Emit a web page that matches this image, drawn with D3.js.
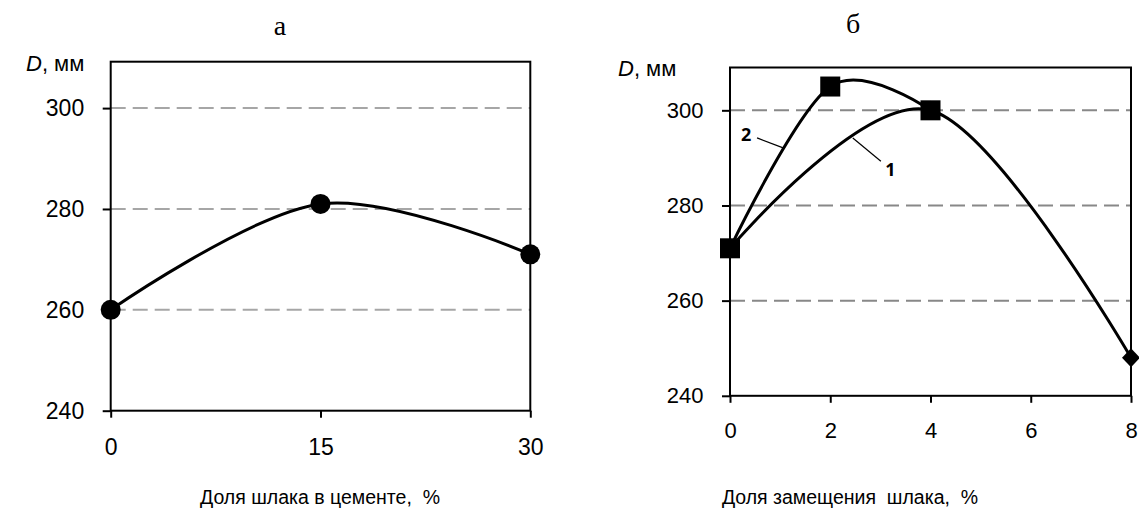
<!DOCTYPE html>
<html><head><meta charset="utf-8">
<script src="https://cdn.jsdelivr.net/npm/d3@7"></script>
<style>
body{margin:0;background:#fff}
svg{display:block}
text{fill:#000;white-space:pre}
</style>
</head><body>
<svg id="c" width="1139" height="509"></svg>
<script>
// ---- data ----
const leftX = [0, 15, 30];
const leftY = [260, 281, 271];
const leftXTicks = [0, 15, 30];
const yTicks = [240, 260, 280, 300];
const s1X = [0, 4, 8];
const s1Y = [271, 300, 248];
const s2X = [0, 2, 4];
const s2Y = [271, 305, 300];
const rightXTicks = [0, 2, 4, 6, 8];
const titles = ["а", "б"];
const xTitles = ["Доля шлака в цементе,  %", "Доля замещения  шлака,  %"];

const SANS = "'Liberation Sans', Arial, sans-serif";
const SERIF = "'Liberation Serif', 'Times New Roman', serif";
const svg = d3.select("#c");
const line = (x, y) => d3.line().x(d => x(d[0])).y(d => y(d[1])).curve(d3.curveCardinal.tension(0));

function panel(o) {
  const x = d3.scaleLinear().domain(o.xd).range([o.l, o.r]);
  const y = d3.scaleLinear().domain(o.yd).range([o.b, o.t]);
  const g = svg.append("g");
  g.selectAll("line.grid").data(yTicks.filter(v => v > o.yd[0])).enter().append("line")
    .attr("x1", o.l).attr("x2", o.r).attr("y1", d => y(d)).attr("y2", d => y(d))
    .attr("stroke", o.grid).attr("stroke-width", 2).attr("stroke-dasharray", "15 7");
  const ay = d3.axisLeft(y).tickValues(yTicks).tickSize(8).tickPadding(18.5).tickSizeOuter(0);
  const gy = g.append("g").attr("transform", `translate(${o.l},0)`).call(ay);
  gy.select(".domain").remove();
  gy.selectAll("line").attr("stroke", "#000").attr("stroke-width", 2);
  gy.selectAll("text").style("font-size", o.fs + "px").style("font-family", SANS).attr("fill", "#000");
  const ax = d3.axisBottom(x).tickValues(o.xt).tickSize(7).tickPadding(o.xpad).tickSizeOuter(0);
  const gx = g.append("g").attr("transform", `translate(0,${o.b})`).call(ax);
  gx.select(".domain").remove();
  gx.selectAll("line").attr("stroke", "#000").attr("stroke-width", 2);
  gx.selectAll("text").style("font-size", o.fs + "px").style("font-family", SANS).attr("fill", "#000");
  g.append("rect").attr("x", o.l).attr("y", o.t).attr("width", o.r - o.l).attr("height", o.b - o.t)
    .attr("fill", "none").attr("stroke", "#000").attr("stroke-width", 2);
  g.append("text").attr("x", o.tx).attr("y", o.ty).attr("text-anchor", "middle")
    .style("font-family", SERIF).style("font-size", "28px").text(o.title);
  const dl = g.append("text").attr("x", o.dx).attr("y", o.dy).style("font-family", SANS).style("font-size", "22px");
  dl.append("tspan").attr("font-style", "italic").text("D");
  dl.append("tspan").text(", мм");
  g.append("text").attr("x", o.xtx).attr("y", 504).attr("text-anchor", "middle")
    .style("font-family", SANS).style("font-size", "19.5px").text(o.xtitle);
  return {x, y, g};
}

// ---- panel а ----
const A = panel({xd: [0, 30], yd: [240, 309.2], l: 110.7, r: 530.3, t: 61.7, b: 410.7,
  xt: leftXTicks, fs: 23, xpad: 21, grid: "#a6a6a6", title: titles[0], tx: 280, ty: 35,
  dx: 26, dy: 71, xtitle: xTitles[0], xtx: 320});
const leftPts = leftX.map((v, i) => [v, leftY[i]]);
A.g.append("path").datum(leftPts).attr("d", line(A.x, A.y))
  .attr("fill", "none").attr("stroke", "#000").attr("stroke-width", 3);
A.g.selectAll("circle.m").data(leftPts).enter().append("circle")
  .attr("cx", d => A.x(d[0])).attr("cy", d => A.y(d[1])).attr("r", 10).attr("fill", "#000");

// ---- panel б ----
const B = panel({xd: [0, 8], yd: [240, 309], l: 730, r: 1131, t: 67.5, b: 395.8,
  xt: rightXTicks, fs: 22, xpad: 20, grid: "#888888", title: titles[1], tx: 853, ty: 33,
  dx: 618, dy: 76, xtitle: xTitles[1], xtx: 850});
const p1 = s1X.map((v, i) => [v, s1Y[i]]);
const p2 = s2X.map((v, i) => [v, s2Y[i]]);
[p1, p2].forEach(p => B.g.append("path").datum(p).attr("d", line(B.x, B.y))
  .attr("fill", "none").attr("stroke", "#000").attr("stroke-width", 3));
B.g.selectAll("path.dia").data(p1).enter().append("path")
  .attr("transform", d => `translate(${B.x(d[0])},${B.y(d[1])})`)
  .attr("d", "M0,-9.5L9,0L0,9.5L-9,0Z").attr("fill", "#000");
B.g.selectAll("rect.sq").data(p2).enter().append("rect")
  .attr("x", d => B.x(d[0]) - 10).attr("y", d => B.y(d[1]) - 10).attr("width", 20).attr("height", 20).attr("fill", "#000");
const ann = [
  {t: "2", lx: 0.32, ly: 294.8, x1: 0.54, y1: 294.2, x2: 1.06, y2: 292.1},
  {t: "1", lx: 3.2, ly: 287.6, x1: 3.01, y1: 289.3, x2: 2.45, y2: 294.2}
];
ann.forEach(a => {
  B.g.append("line").attr("x1", B.x(a.x1)).attr("y1", B.y(a.y1)).attr("x2", B.x(a.x2)).attr("y2", B.y(a.y2))
    .attr("stroke", "#000").attr("stroke-width", 1.2);
  B.g.append("text").attr("x", B.x(a.lx)).attr("y", B.y(a.ly)).attr("text-anchor", "middle")
    .attr("dy", "0.35em").style("font-family", "'Noto Sans', sans-serif").style("font-weight", "bold")
    .style("font-size", "18px").text(a.t);
});
</script>
</body></html>
